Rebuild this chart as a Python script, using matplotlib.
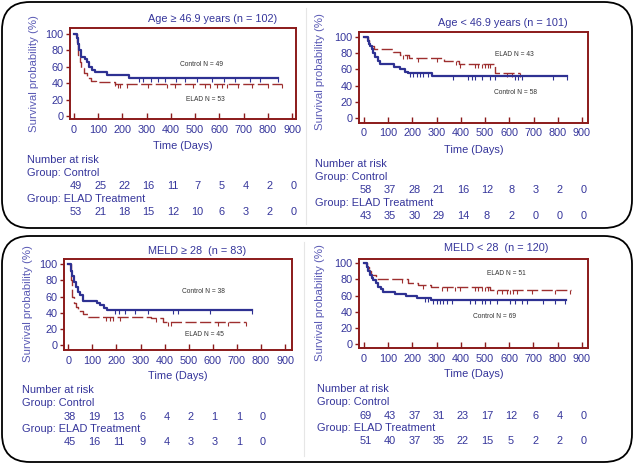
import numpy as np
import matplotlib
matplotlib.use('Agg')
import matplotlib.pyplot as plt
from matplotlib.patches import FancyBboxPatch
from matplotlib.transforms import blended_transform_factory

plt.rcParams['font.family'] = ['Liberation Sans', 'DejaVu Sans']

# ---------------- data ----------------
risk_days = [0, 100, 200, 300, 400, 500, 600, 700, 800, 900]

# Panel 1: Age >= 46.9 years
p1_title = "Age \u2265 46.9 years (n = 102)"
p1_ctrl_t = [0, 12, 18, 22, 27, 45, 55, 63, 75, 85, 136, 228]
p1_ctrl_s = [100, 95, 88, 80, 72, 70, 66, 60, 56, 54, 50, 46.7]
p1_ctrl_end = 842
p1_ctrl_cens = [268, 286, 318, 348, 376, 420, 458, 506, 568, 620, 665, 727, 768, 842]
p1_elad_t = [0, 14, 18, 24, 30, 40, 55, 70, 90, 170]
p1_elad_s = [100, 90, 74, 66, 58, 52, 46, 43, 41, 38.6]
p1_elad_end = 857
p1_elad_cens = [169, 180, 190, 217, 307, 383, 417, 493, 541, 561, 589, 610, 630, 678, 733, 802, 857]
p1_ctrl_label = "Control N = 49"
p1_elad_label = "ELAD N = 53"
p1_risk_ctrl = [49, 25, 22, 16, 11, 7, 5, 4, 2, 0]
p1_risk_elad = [53, 21, 18, 15, 12, 10, 6, 3, 2, 0]

# Panel 2: Age < 46.9 years
p2_title = "Age < 46.9 years (n = 101)"
p2_ctrl_t = [0, 15, 20, 25, 32, 38, 45, 56, 65, 125, 149, 169, 183, 280]
p2_ctrl_s = [100, 95, 91, 88, 85, 80, 75, 70, 66, 63, 60, 57, 55, 52]
p2_ctrl_end = 838
p2_ctrl_cens = [190, 204, 217, 231, 245, 266, 369, 431, 445, 458, 486, 520, 541, 623, 637, 651, 782, 837]
p2_elad_t = [0, 15, 22, 30, 40, 120, 150, 186, 330, 392, 540]
p2_elad_s = [100, 96, 92, 88, 85, 81, 78, 73.5, 70.5, 66.5, 55]
p2_elad_end = 645
p2_elad_cens = [160, 178, 225, 300, 378, 398, 460, 472, 486, 499, 510, 520, 590, 610, 645]
p2_ctrl_label = "Control N = 58"
p2_elad_label = "ELAD N = 43"
p2_risk_ctrl = [58, 37, 28, 21, 16, 12, 8, 3, 2, 0]
p2_risk_elad = [43, 35, 30, 29, 14, 8, 2, 0, 0, 0]

# Panel 3: MELD >= 28
p3_title = "MELD \u2265 28  (n = 83)"
p3_ctrl_t = [0, 10, 15, 22, 30, 40, 50, 60, 120, 130, 150, 160]
p3_ctrl_s = [100, 92, 85, 78, 72, 66, 62, 55, 52, 49, 46, 43]
p3_ctrl_end = 765
p3_ctrl_cens = [194, 210, 236, 277, 332, 435, 456, 589, 765]
p3_elad_t = [0, 12, 16, 22, 30, 40, 62, 82, 345, 395]
p3_elad_s = [100, 80, 60, 52, 47, 42, 38, 35, 33, 29]
p3_elad_end = 740
p3_elad_cens = [158, 172, 186, 213, 366, 414, 428, 622, 664, 740]
p3_ctrl_label = "Control N = 38"
p3_elad_label = "ELAD N = 45"
p3_risk_ctrl = [38, 19, 13, 6, 4, 2, 1, 1, 0]
p3_risk_elad = [45, 16, 11, 9, 4, 3, 3, 1, 0]

# Panel 4: MELD < 28
p4_title = "MELD < 28  (n = 120)"
p4_ctrl_t = [0, 11, 18, 25, 32, 38, 48, 59, 70, 80, 127, 175, 221, 276]
p4_ctrl_s = [100, 95, 90, 86, 82, 79, 75, 71, 68, 65, 62, 59, 57, 54.5]
p4_ctrl_end = 837
p4_ctrl_cens = [252, 266, 287, 300, 314, 328, 342, 362, 438, 459, 486, 500, 521, 548,
                603, 624, 652, 672, 741, 789, 831]
p4_elad_t = [0, 12, 22, 30, 50, 182, 225, 275, 520]
p4_elad_s = [100, 95, 90, 86, 81, 75.5, 73, 71, 67]
p4_elad_end = 857
p4_elad_cens = [156, 245, 321, 342, 376, 397, 459, 473, 486, 500, 514, 548, 569, 590,
                603, 617, 631, 693, 789, 851]
p4_ctrl_label = "Control N = 69"
p4_elad_label = "ELAD N = 51"
p4_risk_ctrl = [69, 43, 37, 31, 23, 17, 12, 6, 4, 0]
p4_risk_elad = [51, 40, 37, 35, 22, 15, 5, 2, 2, 0]

# ---------------- style ----------------
W, H = 635, 465
C_TXT = '#35359b'
C_YLAB = '#5b5bb5'
C_FRAME = '#8b1a1a'
C_CTRL = '#2e3192'
C_ELAD = '#9e2f2f'
FS_TAB = 7.9
FS_TICK = 7.8

fig = plt.figure(figsize=(W / 100, H / 100), dpi=100)
bg = fig.add_axes([0, 0, 1, 1], zorder=-5)
bg.set_xlim(0, W)
bg.set_ylim(H, 0)
bg.axis('off')
for (y0, h) in [(2, 226), (236, 226)]:
    bg.add_patch(FancyBboxPatch((2, y0), 630, h,
                                boxstyle='round,pad=0,rounding_size=28',
                                fc='white', ec='black', lw=1.3))
# faint separators
bg.plot([306, 306], [8, 224], color='#e6e6e6', lw=0.8)
bg.plot([304, 304], [242, 456], color='#e6e6e6', lw=0.8)

CENSOR = [(0, 0), (0, -1)]


def draw_panel(frame, x0px, x900px, y100px, y0px, title, title_xy, ylab_xy,
               ctrl, elad, ctrl_label, ctrl_xy, elad_label, elad_xy,
               risk_ctrl, risk_elad, table_x, table_ys, xlab_y):
    left, top, right, bottom = frame
    ax = fig.add_axes([left / W, 1 - bottom / H, (right - left) / W, (bottom - top) / H])
    ax.set_facecolor('none')
    sx = (x900px - x0px) / 900.0
    sy = (y0px - y100px) / 100.0
    ax.set_xlim((left - x0px) / sx, (right - x0px) / sx)
    ax.set_ylim((y0px - bottom) / sy, (y0px - top) / sy)

    for (t, s, end, cens, col, lw, ls) in [
            (elad[0], elad[1], elad[2], elad[3], C_ELAD, 1.0, (0, (8, 2.5))),
            (ctrl[0], ctrl[1], ctrl[2], ctrl[3], C_CTRL, 1.6, '-')]:
        tt = list(t) + [end]
        ss = list(s) + [s[-1]]
        ax.step(tt, ss, where='post', color=col, lw=lw, linestyle=ls)
        idx = np.searchsorted(np.array(t), np.array(cens), side='right') - 1
        cy = np.array(s)[idx]
        ax.plot(cens, cy, linestyle='none', marker=CENSOR, ms=6, mew=0.8, color=col)

    for sp in ax.spines.values():
        sp.set_color(C_FRAME)
        sp.set_linewidth(1.4)
    ax.set_xticks(range(0, 901, 100))
    ax.set_yticks(range(0, 101, 20))
    ax.tick_params(axis='x', direction='in', length=4, width=1, color=C_FRAME,
                   labelsize=FS_TICK, labelcolor=C_TXT, pad=4)
    ax.tick_params(axis='y', direction='out', length=3, width=1, color=C_FRAME,
                   labelsize=FS_TICK, labelcolor=C_TXT, pad=1.5)

    bg.text(title_xy[0], title_xy[1], title, ha='center', va='center',
            fontsize=7.8, color=C_TXT)
    bg.text(ylab_xy[0], ylab_xy[1], "Survival probability (%)", ha='center', va='center',
            rotation=90, fontsize=8.2, color=C_YLAB)
    bg.text((left + right) / 2, xlab_y, "Time (Days)", ha='center', va='center',
            fontsize=7.9, color=C_TXT)
    bg.text(ctrl_xy[0], ctrl_xy[1], ctrl_label, ha='center', va='center',
            fontsize=4.8, color='#333333')
    bg.text(elad_xy[0], elad_xy[1], elad_label, ha='center', va='center',
            fontsize=4.8, color='#333333')

    bg.text(table_x, table_ys[0], "Number at risk", ha='left', va='center',
            fontsize=FS_TAB, color=C_TXT)
    bg.text(table_x, table_ys[1], "Group: Control", ha='left', va='center',
            fontsize=FS_TAB, color=C_TXT)
    bg.text(table_x, table_ys[3], "Group: ELAD Treatment", ha='left', va='center',
            fontsize=FS_TAB, color=C_TXT)
    bt = blended_transform_factory(ax.transData, bg.transData)
    for d, v in zip(risk_days, risk_ctrl):
        ax.text(d + 8, table_ys[2], str(v), transform=bt, ha='center', va='center',
                fontsize=FS_TAB, color=C_TXT, clip_on=False)
    for d, v in zip(risk_days, risk_elad):
        ax.text(d + 8, table_ys[4], str(v), transform=bt, ha='center', va='center',
                fontsize=FS_TAB, color=C_TXT, clip_on=False)
    return ax


draw_panel((70, 28.3, 296, 119.3), 74, 292, 34, 116, p1_title, (212.5, 19.3), (34, 74),
           (p1_ctrl_t, p1_ctrl_s, p1_ctrl_end, p1_ctrl_cens),
           (p1_elad_t, p1_elad_s, p1_elad_end, p1_elad_cens),
           p1_ctrl_label, (201.7, 64.3), p1_elad_label, (205, 99),
           p1_risk_ctrl, p1_risk_elad, 26.7, (160, 172.7, 186, 199.3, 212), 145.7)

draw_panel((359, 32.3, 587.7, 122.7), 364, 582, 36.7, 118.3, p2_title, (503, 22.7), (320, 72),
           (p2_ctrl_t, p2_ctrl_s, p2_ctrl_end, p2_ctrl_cens),
           (p2_elad_t, p2_elad_s, p2_elad_end, p2_elad_cens),
           p2_ctrl_label, (515, 92.7), p2_elad_label, (514, 54.3),
           p2_risk_ctrl, p2_risk_elad, 315, (164, 176.7, 190, 202.7, 216), 150)

draw_panel((64, 259, 291.7, 350), 68.3, 285, 264.3, 345, p3_title, (197.5, 251), (28, 304),
           (p3_ctrl_t, p3_ctrl_s, p3_ctrl_end, p3_ctrl_cens),
           (p3_elad_t, p3_elad_s, p3_elad_end, p3_elad_cens),
           p3_ctrl_label, (203.3, 291.7), p3_elad_label, (204, 334),
           p3_risk_ctrl, p3_risk_elad, 21.7, (390, 402.7, 416.7, 429, 442.3), 375.5)

draw_panel((359, 259, 587.7, 348.3), 364, 581.7, 263.3, 344, p4_title, (496, 248.3), (320, 303),
           (p4_ctrl_t, p4_ctrl_s, p4_ctrl_end, p4_ctrl_cens),
           (p4_elad_t, p4_elad_s, p4_elad_end, p4_elad_cens),
           p4_ctrl_label, (494.3, 316), p4_elad_label, (506.7, 273.3),
           p4_risk_ctrl, p4_risk_elad, 316.7, (389.3, 401.7, 415.7, 428.3, 441), 374)

fig.savefig('out.png', dpi=100)
